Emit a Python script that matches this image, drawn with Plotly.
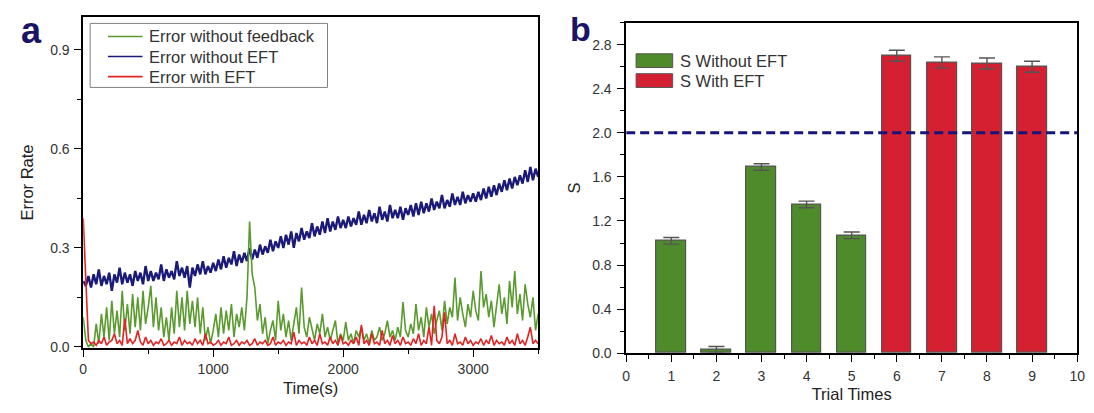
import numpy as np
import plotly.graph_objects as go

# ---------------- Panel a data ----------------
time_s = list(range(0, 3501, 20))

err_without_eft = [
    0.20, 0.185, 0.215, 0.18, 0.22, 0.19, 0.235, 0.185, 0.215, 0.19, 0.225, 0.17, 0.22, 0.195, 0.24, 0.19, 0.225, 0.195, 0.22, 0.185, 0.23, 0.2, 0.225, 0.19, 0.245, 0.2,
    0.23, 0.2, 0.225, 0.205, 0.25, 0.2, 0.235, 0.21, 0.23, 0.205, 0.26, 0.215, 0.24, 0.21, 0.245, 0.18, 0.24, 0.215, 0.25, 0.22, 0.26, 0.22, 0.245, 0.225, 0.255,
    0.23, 0.265, 0.235, 0.275, 0.24, 0.27, 0.25, 0.29, 0.245, 0.28, 0.255, 0.285, 0.26, 0.3, 0.265, 0.295, 0.27, 0.31, 0.28, 0.305, 0.285, 0.325, 0.29, 0.32, 0.3,
    0.335, 0.3, 0.34, 0.31, 0.35, 0.3, 0.345, 0.32, 0.36, 0.325, 0.35, 0.33, 0.375, 0.335, 0.365, 0.34, 0.38, 0.345, 0.39, 0.35, 0.38, 0.355, 0.395, 0.36, 0.385,
    0.36, 0.395, 0.365, 0.39, 0.37, 0.41, 0.37, 0.4, 0.375, 0.415, 0.38, 0.405, 0.375, 0.425, 0.385, 0.41, 0.38, 0.43, 0.39, 0.415, 0.39, 0.425, 0.385, 0.42, 0.4,
    0.43, 0.395, 0.435, 0.4, 0.44, 0.405, 0.435, 0.41, 0.45, 0.415, 0.44, 0.42, 0.46, 0.42, 0.445, 0.425, 0.465, 0.43, 0.455, 0.43, 0.47, 0.435, 0.46, 0.44, 0.465,
    0.44, 0.47, 0.445, 0.48, 0.45, 0.485, 0.455, 0.49, 0.46, 0.495, 0.47, 0.505, 0.475, 0.51, 0.48, 0.515, 0.49, 0.52, 0.495, 0.535, 0.5, 0.545, 0.505, 0.54, 0.515,
]

err_without_feedback = [
    0.09, 0.02, 0.0, 0.01, 0.0, 0.07, 0.01, 0.1, 0.03, 0.12, 0.02, 0.14, 0.04, 0.11, 0.03, 0.17, 0.05, 0.13, 0.04, 0.16, 0.06, 0.15, 0.05, 0.17, 0.07, 0.12,
    0.185, 0.06, 0.15, 0.05, 0.12, 0.03, 0.09, 0.02, 0.12, 0.04, 0.17, 0.06, 0.15, 0.05, 0.17, 0.07, 0.14, 0.06, 0.15, 0.04, 0.12, 0.02, 0.06, 0.01, 0.05,
    0.1, 0.03, 0.12, 0.04, 0.11, 0.05, 0.13, 0.03, 0.1, 0.06, 0.12, 0.05, 0.15, 0.38, 0.22, 0.18, 0.08, 0.13, 0.04, 0.09, 0.01, 0.05, 0.08, 0.02, 0.14,
    0.05, 0.1, 0.03, 0.08, 0.02, 0.07, 0.12, 0.04, 0.18, 0.06, 0.03, 0.09, 0.05, 0.02, 0.07, 0.04, 0.1, 0.03, 0.06, 0.02, 0.05, 0.08, 0.01, 0.04, 0.02,
    0.075, 0.02, 0.04, 0.01, 0.05, 0.03, 0.06, 0.02, 0.04, 0.01, 0.05, 0.02, 0.03, 0.06, 0.02, 0.04, 0.08, 0.03, 0.05, 0.02, 0.06, 0.03, 0.136, 0.05, 0.03,
    0.07, 0.04, 0.13, 0.05, 0.09, 0.03, 0.12, 0.06, 0.1, 0.04, 0.08, 0.11, 0.05, 0.14, 0.07, 0.12, 0.09, 0.21, 0.08, 0.15, 0.1, 0.06, 0.13, 0.09, 0.17,
    0.11, 0.08, 0.23, 0.12, 0.16, 0.09, 0.14, 0.06, 0.12, 0.19, 0.1, 0.15, 0.07, 0.2, 0.12, 0.23, 0.1, 0.16, 0.08, 0.19, 0.13, 0.09, 0.15, 0.05, 0.1,
]

err_with_eft = [
    0.39, 0.2, 0.02, 0.01, 0.015, 0.005, 0.02, 0.01, 0.03, 0.005, 0.015, 0.02, 0.04, 0.01, 0.02, 0.005, 0.086, 0.01, 0.025, 0.01, 0.02, 0.05, 0.015, 0.005, 0.03, 0.01,
    0.02, 0.005, 0.015, 0.01, 0.025, 0.005, 0.01, 0.02, 0.005, 0.015, 0.01, 0.03, 0.005, 0.02, 0.01, 0.015, 0.005, 0.025, 0.01, 0.02, 0.005, 0.04, 0.01, 0.015, 0.005,
    0.01, 0.02, 0.005, 0.015, 0.01, 0.03, 0.005, 0.01, 0.02, 0.005, 0.015, 0.01, 0.02, 0.005, 0.01, 0.025, 0.005, 0.015, 0.01, 0.02, 0.005, 0.01, 0.03, 0.005, 0.015,
    0.01, 0.02, 0.005, 0.015, 0.01, 0.045, 0.005, 0.02, 0.01, 0.015, 0.005, 0.03, 0.01, 0.02, 0.005, 0.04, 0.01, 0.015, 0.005, 0.03, 0.01, 0.02, 0.005, 0.035, 0.01,
    0.015, 0.005, 0.02, 0.01, 0.03, 0.005, 0.067, 0.01, 0.02, 0.005, 0.04, 0.01, 0.015, 0.005, 0.05, 0.01, 0.02, 0.005, 0.035, 0.01, 0.02, 0.005, 0.03, 0.01, 0.015,
    0.005, 0.025, 0.01, 0.04, 0.005, 0.02, 0.01, 0.06, 0.005, 0.125, 0.02, 0.01, 0.03, 0.105, 0.01, 0.02, 0.005, 0.04, 0.01, 0.015, 0.005, 0.03, 0.01, 0.02, 0.005,
    0.015, 0.01, 0.025, 0.005, 0.02, 0.01, 0.035, 0.005, 0.02, 0.01, 0.015, 0.005, 0.03, 0.01, 0.02, 0.005, 0.04, 0.01, 0.02, 0.005, 0.03, 0.06, 0.01, 0.02, 0.01,
]

series_a = [
    ("Error without feedback", err_without_feedback, "#5a9a2e", 1.6),
    ("Error without EFT", err_without_eft, "#1b1a78", 2.4),
    ("Error with EFT", err_with_eft, "#e32222", 1.6),
]

# ---------------- Panel b data ----------------
trials_without = [1, 2, 3, 4, 5]
s_without = [1.02, 0.03, 1.69, 1.35, 1.07]
s_without_err = [0.03, 0.03, 0.03, 0.03, 0.03]
trials_with = [6, 7, 8, 9]
s_with = [2.70, 2.64, 2.63, 2.60]
s_with_err = [0.05, 0.05, 0.05, 0.05]
threshold = 2.0

a_yticks = [0.0, 0.3, 0.6, 0.9]
a_xticks = [0, 1000, 2000, 3000]
b_yticks = [0.0, 0.4, 0.8, 1.2, 1.6, 2.0, 2.4, 2.8]
b_xticks = list(range(0, 11))

# ---------------- styling ----------------
W, H = 1094, 413
FONT = "Liberation Sans, Arial, sans-serif"
GREEN = "#4f8a2b"
BAR_RED = "#d42030"

def px(x):
    return x / W

def py(y):
    return 1 - y / H

fig = go.Figure()

# draw order: blue below green below red
for idx in (1, 0, 2):
    name, vals, col, w = series_a[idx]
    fig.add_trace(go.Scatter(x=time_s, y=vals, mode="lines", name=name,
                             line=dict(color=col, width=w), showlegend=False,
                             xaxis="x", yaxis="y"))

fig.add_trace(go.Bar(x=trials_without, y=s_without, width=0.66, name="S Without EFT",
                     marker=dict(color=GREEN, line=dict(color="#555555", width=1.2)),
                     error_y=dict(type="data", array=s_without_err, color="#555555", thickness=1.4, width=8),
                     showlegend=False, xaxis="x2", yaxis="y2"))
fig.add_trace(go.Bar(x=trials_with, y=s_with, width=0.66, name="S With EFT",
                     marker=dict(color=BAR_RED, line=dict(color="#555555", width=1.2)),
                     error_y=dict(type="data", array=s_with_err, color="#555555", thickness=1.4, width=8),
                     showlegend=False, xaxis="x2", yaxis="y2"))
fig.add_trace(go.Scatter(x=[0, 10], y=[threshold, threshold], mode="lines",
                         line=dict(color="#14147a", width=3, dash="9px,5px"),
                         showlegend=False, hoverinfo="skip", xaxis="x2", yaxis="y2"))

tickfont = dict(family=FONT, size=14, color="#333333")
titlefont = dict(family=FONT, size=16.5, color="#222222")

ax_common = dict(showline=True, linecolor="black", linewidth=1.5, showgrid=False, zeroline=False,
                 ticks="outside", ticklen=7, tickwidth=1.2, tickcolor="black", tickfont=tickfont,
                 mirror=True)

xa_dom = [px(72), px(532)]
ya_dom = [py(347), py(9)]
xb_dom = [px(621), px(1077)]
yb_dom = [py(352), py(15)]

fig.update_layout(
    width=W, height=H,
    margin=dict(l=0, r=0, t=0, b=0),
    paper_bgcolor="white", plot_bgcolor="white",
    font=dict(family=FONT),
    bargap=0,
    xaxis=dict(domain=xa_dom, anchor="y", range=[0, 3500], tickvals=a_xticks,
               minor=dict(ticks="outside", ticklen=4, dtick=500, tick0=0, tickcolor="black"),
               title=dict(text="Time(s)", font=titlefont, standoff=7), **ax_common),
    yaxis=dict(domain=ya_dom, anchor="x", range=[-0.004, 1.0], tickvals=a_yticks,
               ticktext=[f"{v:.1f}" for v in a_yticks], ticklabelstandoff=2,
               minor=dict(ticks="outside", ticklen=4, dtick=0.15, tick0=0, tickcolor="black"),
               title=dict(text="Error Rate", font=titlefont, standoff=12), **ax_common),
    xaxis3=dict(domain=xa_dom, anchor="y", overlaying="x", side="top", range=[0, 3500],
                showline=False, showgrid=False, zeroline=False, showticklabels=False,
                ticks="inside", ticklen=6, tickcolor="black", dtick=500, tick0=0),
    yaxis3=dict(domain=ya_dom, anchor="x", overlaying="y", side="right", range=[-0.004, 1.0],
                showline=False, showgrid=False, zeroline=False, showticklabels=False,
                ticks="inside", ticklen=6, tickcolor="black", dtick=0.15, tick0=0),
    xaxis2=dict(domain=xb_dom, anchor="y2", range=[0, 10], tickvals=b_xticks,
                ticklabelstandoff=2,
                minor=dict(ticks="outside", ticklen=4, dtick=0.5, tick0=0, tickcolor="black"),
                title=dict(text="Trial Times", font=titlefont, standoff=6), **ax_common),
    yaxis2=dict(domain=yb_dom, anchor="x2", range=[0, 3.0], tickvals=b_yticks,
                ticktext=[f"{v:.1f}" for v in b_yticks], ticklabelstandoff=3,
                minor=dict(ticks="outside", ticklen=4, dtick=0.2, tick0=0, tickcolor="black"),
                title=dict(text="S", font=titlefont, standoff=7), **ax_common),
    xaxis4=dict(domain=xb_dom, anchor="y2", overlaying="x2", side="top", range=[0, 10],
                showline=False, showgrid=False, zeroline=False, showticklabels=False,
                ticks="inside", ticklen=6, tickcolor="black", dtick=0.5, tick0=0),
    yaxis4=dict(domain=yb_dom, anchor="x2", overlaying="y2", side="right", range=[0, 3.0],
                showline=False, showgrid=False, zeroline=False, showticklabels=False,
                ticks="inside", ticklen=6, tickcolor="black", dtick=0.2, tick0=0),
)

# panel labels
fig.add_annotation(text="<b>a</b>", x=px(20), y=1, xref="paper", yref="paper",
                   xanchor="center", yanchor="top", showarrow=False,
                   font=dict(family=FONT, size=36, color="#1b1464"))
fig.add_annotation(text="<b>b</b>", x=px(575), y=1, xref="paper", yref="paper",
                   xanchor="center", yanchor="top", showarrow=False,
                   font=dict(family=FONT, size=34, color="#1b1464"))

# legend for panel a (box, line samples, labels)
fig.add_shape(type="rect", xref="paper", yref="paper",
              x0=px(79), x1=px(319), y0=py(81), y1=py(15.7),
              fillcolor="white", line=dict(color="#808080", width=1), layer="above")
for (name, vals, col, w), yc in zip(series_a, [29, 49.5, 70]):
    fig.add_shape(type="line", xref="paper", yref="paper",
                  x0=px(97), x1=px(132), y0=py(yc), y1=py(yc),
                  line=dict(color=col, width=1.6), layer="above")
    fig.add_annotation(text=name, x=px(137), y=py(yc), xref="paper", yref="paper",
                       xanchor="left", yanchor="middle", showarrow=False,
                       font=dict(family=FONT, size=16.5, color="#333333"))

# legend for panel b (swatches + labels)
legend_b = [("S Without EFT", GREEN, 53.7), ("S With EFT", BAR_RED, 74)]
for label, col, yc in legend_b:
    fig.add_shape(type="rect", xref="paper", yref="paper",
                  x0=px(631), x1=px(668), y0=py(yc + 7), y1=py(yc - 7),
                  fillcolor=col, line=dict(color="#555555", width=1))
    fig.add_annotation(text=label, x=px(673), y=py(yc), xref="paper", yref="paper",
                       xanchor="left", yanchor="middle", showarrow=False,
                       font=dict(family=FONT, size=16.5, color="#333333"))

fig.write_html("out.html")
